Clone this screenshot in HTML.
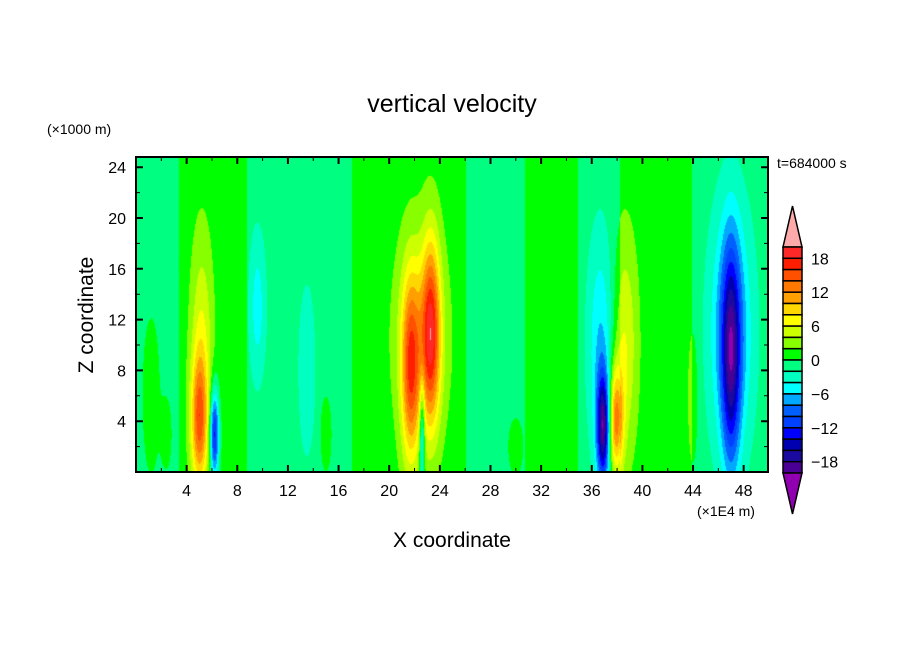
<!DOCTYPE html>
<html><head><meta charset="utf-8"><style>
body{margin:0;background:#fff;width:904px;height:654px;overflow:hidden;font-family:"Liberation Sans",sans-serif}
#wrap{position:relative;width:904px;height:654px}
canvas{position:absolute;left:136px;top:157px}
svg{position:absolute;left:0;top:0}
</style></head><body>
<div id="wrap">
<canvas id="cv" width="632" height="315"></canvas>
<svg id="sv" width="904" height="654"></svg>
</div>
<script>
// background column bands: x-start (1E4 m) and base value
const bandStarts=[0,3.4,8.8,17.1,26.1,30.7,34.9,38.2,43.9];
const bandValues=[-1,1,-1,1,-1,1,-1,1,-1];
// gaussian cells: centre x, centre z, amplitude, sigma x, sigma z
const cellX=[22.5,21.7,23.3,22.6,5.0,5.2,6.2,9.6,36.9,36.7,37.9,38.6,47.0,47.0,1.2,15.0,30.0,44.0,13.5,2.4];
const cellZ=[10.5,8,11,3,4,10,3,13,3.5,10,4,10,11,9,6,3,2,6,8,3];
const cellA=[6,12,14,-9,12,5,-14,-4,-17,-5,13,5,-8,-12,2.5,3,3,2.5,-2.5,2.5];
const cellSX=[1.3,0.5,0.5,0.15,0.45,0.6,0.25,0.45,0.35,0.7,0.4,0.7,1.1,0.5,0.5,0.3,0.4,0.3,0.5,0.3];
const cellSZ=[5.5,5,5,3,3.5,6,2.5,4,3,6,3,6,6.5,6,4.5,2,1.5,4,5,2];
const levelColors=["#4b0095","#1a0aa0","#0000b0","#0000ff","#0040ff","#0060ff","#00a8ff","#00ffff","#00ffc0","#00ff80","#00ff00","#88ff00","#ccff00","#ffff00","#ffd700","#ffa000","#ff7800","#ff5000","#ff1e00","#ff2828"];
const colorLabels=["18","12","6","0","\u22126","\u221212","\u221218"];
const xTicks=[4,8,12,16,20,24,28,32,36,40,44,48];
const yTicks=[4,8,12,16,20,24];
const X0=136,Y0=472,XS=12.66,ZS=12.7,W=632,H=315;
const sx=v=>X0+v*XS, sy=v=>Y0-v*ZS;
function hex(c){return [parseInt(c.substr(1,2),16),parseInt(c.substr(3,2),16),parseInt(c.substr(5,2),16)];}
const lc=levelColors.map(hex), pink=hex("#ffaaaa"), purp=hex("#9000b0");
function field(x,z){
  let b=bandValues[0];
  for(let i=0;i<bandStarts.length;i++) if(x>=bandStarts[i]) b=bandValues[i];
  let v=b;
  for(let i=0;i<cellX.length;i++){
    const dx=(x-cellX[i])/cellSX[i], dz=(z-cellZ[i])/cellSZ[i];
    v+=cellA[i]*Math.exp(-0.5*(dx*dx+dz*dz));
  }
  return v;
}
const cv=document.getElementById('cv'),ctx=cv.getContext('2d');
const img=ctx.createImageData(W,H);
for(let py=0;py<H;py++)for(let px=0;px<W;px++){
  const x=(px+0.5)/XS, z=(H-py-0.5)/ZS;
  const v=field(x,z);
  let c; if(v>=20)c=pink; else if(v<-20)c=purp; else c=lc[Math.floor(v/2)+10];
  const k=(py*W+px)*4; img.data[k]=c[0];img.data[k+1]=c[1];img.data[k+2]=c[2];img.data[k+3]=255;
}
ctx.putImageData(img,0,0);
const sv=document.getElementById('sv'),NS="http://www.w3.org/2000/svg";
function el(t,a,txt){const e=document.createElementNS(NS,t);for(const k in a)e.setAttribute(k,a[k]);if(txt!==undefined)e.textContent=txt;sv.appendChild(e);return e;}
let e;
e=el('rect',{x:136,y:157,width:632,height:315,fill:'none',stroke:'#000','stroke-width':2});


for(let v=2;v<50;v+=2){
  const major=v%4===0,L=major?7:4,x=sx(v);
  e=el('path',{d:`M${x},472v${-L}M${x},157v${L}`,stroke:'#000','stroke-width':major?2:1});
  
  
}
for(let v=2;v<25;v+=2){
  const major=v%4===0,L=major?7:4,y=sy(v);
  e=el('path',{d:`M136,${y}h${L}M768,${y}h${-L}`,stroke:'#000','stroke-width':major?2:1});
  
  
}
xTicks.forEach(v=>{
  e=el('text',{x:sx(v),y:496,'text-anchor':'middle','font-size':16},String(v));
  
  
});
yTicks.forEach(v=>{
  e=el('text',{x:126,y:sy(v)+6,'text-anchor':'end','font-size':16},String(v));
  
  
});
// colorbar
const CBX=783,CBW=19,CBT=247,BH=11.3;
e=el('path',{d:`M${CBX},${CBT}L${CBX+CBW/2},206L${CBX+CBW},${CBT}Z`,fill:'#ffaaaa',stroke:'#000','stroke-width':1.5});


for(let i=0;i<20;i++){
  e=el('rect',{x:CBX,y:CBT+i*BH,width:CBW,height:BH,fill:levelColors[19-i],stroke:'#000','stroke-width':1.5});
  
  
}
const CBB=CBT+20*BH;
e=el('path',{d:`M${CBX},${CBB}L${CBX+CBW/2},514L${CBX+CBW},${CBB}Z`,fill:'#9000b0',stroke:'#000','stroke-width':1.5});


colorLabels.forEach((t,i)=>{
  e=el('text',{x:811,y:CBT+(1+3*i)*BH+6,'font-size':16},t);
  
  
});
e=el('text',{x:452,y:112,'text-anchor':'middle','font-size':25},'vertical velocity');


e=el('text',{x:47,y:134,'font-size':14},'(\u00d71000 m)');


e=el('text',{x:777,y:168,'font-size':14},'t=684000 s');


e=el('text',{x:697,y:516,'font-size':14},'(\u00d71E4 m)');


e=el('text',{x:452,y:547,'text-anchor':'middle','font-size':21},'X coordinate');


e=el('text',{x:93,y:315,'text-anchor':'middle','font-size':21,transform:'rotate(-90 93 315)'},'Z coordinate');


</script>
</body></html>
